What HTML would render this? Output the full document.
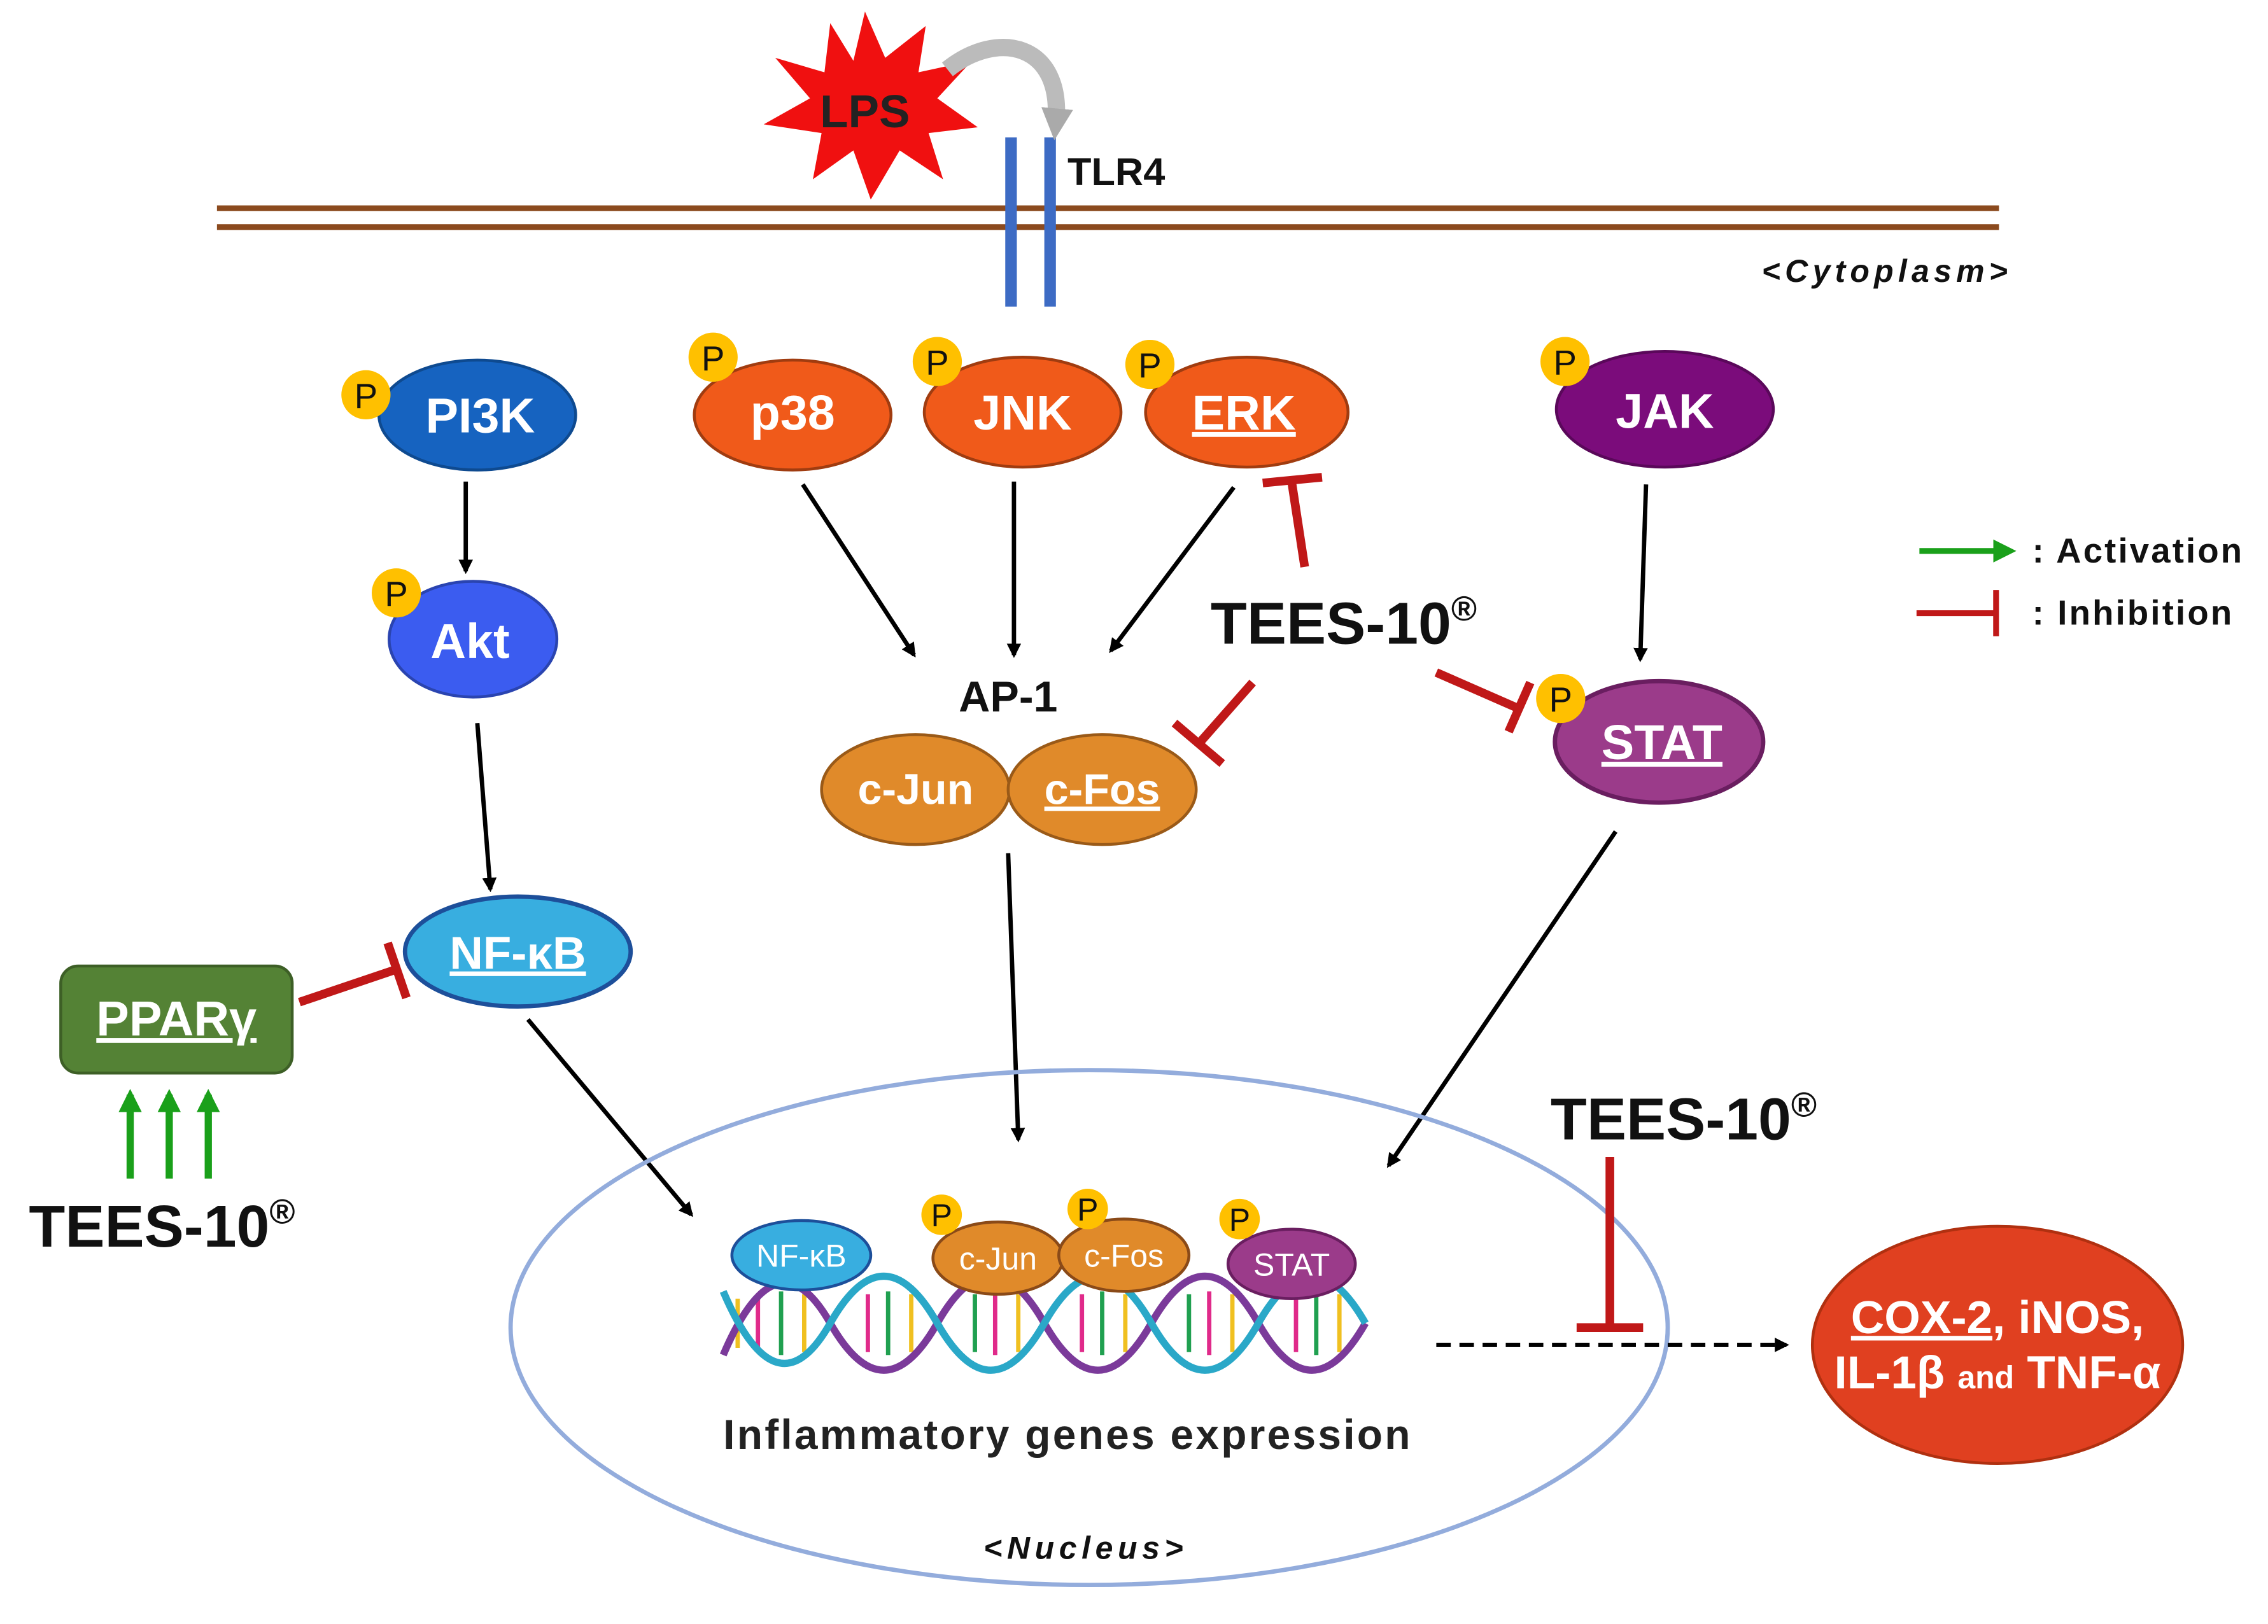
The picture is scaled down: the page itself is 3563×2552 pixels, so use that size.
<!DOCTYPE html>
<html><head><meta charset="utf-8"><style>html,body{margin:0;padding:0;background:#fff}svg{display:block}</style></head><body>
<svg width="3563" height="2552" viewBox="0 0 1568 1123" preserveAspectRatio="none" xmlns="http://www.w3.org/2000/svg" font-family="'Liberation Sans', sans-serif" font-weight="bold">
<defs>
<marker id="ab" markerWidth="10" markerHeight="10" refX="8" refY="5" orient="auto" markerUnits="userSpaceOnUse" viewBox="0 0 10 10"><path d="M0,0 L10,5 L0,10 z" fill="#000"/></marker>
<marker id="ag" markerWidth="16" markerHeight="16" refX="12" refY="8" orient="auto" markerUnits="userSpaceOnUse" viewBox="0 0 16 16"><path d="M0,0 L16,8 L0,16 z" fill="#1aa01a"/></marker>
<marker id="agr" markerWidth="22" markerHeight="22" refX="10" refY="11" orient="auto" markerUnits="userSpaceOnUse" viewBox="0 0 22 22"><path d="M0,0 L22,11 L0,22 z" fill="#aaa"/></marker>
</defs>
<line x1="150" y1="144" x2="1382" y2="144" stroke="#8b4a1e" stroke-width="4"/>
<line x1="150" y1="157" x2="1382" y2="157" stroke="#8b4a1e" stroke-width="4"/>
<rect x="695" y="95" width="8" height="117" fill="#3d6bc4"/>
<rect x="722" y="95" width="8" height="117" fill="#3d6bc4"/>
<text x="738" y="128" font-size="27" fill="#111">TLR4</text>
<text x="1218" y="195" font-size="22" font-style="italic" fill="#111" textLength="170">&lt;Cytoplasm&gt;</text>
<polygon fill="#f01010" points="598,8 612,40 640,18 635,50 672,42 648,68 676,88 642,92 652,124 622,104 602,138 590,104 562,124 568,92 528,86 560,68 536,40 570,50 574,16 590,42"/>
<text x="598" y="88" font-size="32" text-anchor="middle" fill="#222">LPS</text>
<path d="M655,48 C690,20 735,30 730,85" fill="none" stroke="#bbb" stroke-width="12" marker-end="url(#agr)"/>
<ellipse cx="330" cy="287" rx="68" ry="38" fill="#1663c0" stroke="#0e4a90" stroke-width="2"/>
<text x="332" y="299" font-size="34" text-anchor="middle" fill="#fff">PI3K</text>
<ellipse cx="327" cy="442" rx="58" ry="40" fill="#3b5cf0" stroke="#2a44b0" stroke-width="2"/>
<text x="325" y="455" font-size="34" text-anchor="middle" fill="#fff">Akt</text>
<ellipse cx="358" cy="658" rx="78" ry="38" fill="#38aee0" stroke="#1d4f9a" stroke-width="3"/>
<text x="358" y="670" font-size="32" text-anchor="middle" fill="#fff" text-decoration="underline">NF-κB</text>
<rect x="42" y="668" width="160" height="74" rx="12" fill="#548235" stroke="#3d5f26" stroke-width="2"/>
<text x="122" y="716" font-size="34" text-anchor="middle" fill="#fff" text-decoration="underline">PPARγ</text>
<line x1="322" y1="333" x2="322" y2="395" stroke="#000" stroke-width="3" marker-end="url(#ab)"/>
<line x1="330" y1="500" x2="339" y2="615" stroke="#000" stroke-width="3" marker-end="url(#ab)"/>
<line x1="365" y1="705" x2="478" y2="840" stroke="#000" stroke-width="3" marker-end="url(#ab)"/>
<line x1="207" y1="693" x2="275" y2="670" stroke="#c01818" stroke-width="6"/>
<line x1="268" y1="652" x2="281" y2="690" stroke="#c01818" stroke-width="6"/>
<line x1="90" y1="815" x2="90" y2="757" stroke="#1aa01a" stroke-width="5" marker-end="url(#ag)"/>
<line x1="117" y1="815" x2="117" y2="757" stroke="#1aa01a" stroke-width="5" marker-end="url(#ag)"/>
<line x1="144" y1="815" x2="144" y2="757" stroke="#1aa01a" stroke-width="5" marker-end="url(#ag)"/>
<text x="20" y="862" font-size="41" fill="#111">TEES-10<tspan font-size="24" dy="-16">®</tspan></text>
<ellipse cx="548" cy="287" rx="68" ry="38" fill="#f05a1a" stroke="#a03c10" stroke-width="2"/>
<text x="548" y="297" font-size="34" text-anchor="middle" fill="#fff">p38</text>
<ellipse cx="707" cy="285" rx="68" ry="38" fill="#f05a1a" stroke="#a03c10" stroke-width="2"/>
<text x="707" y="297" font-size="34" text-anchor="middle" fill="#fff">JNK</text>
<ellipse cx="862" cy="285" rx="70" ry="38" fill="#f05a1a" stroke="#a03c10" stroke-width="2"/>
<text x="860" y="297" font-size="34" text-anchor="middle" fill="#fff" text-decoration="underline">ERK</text>
<ellipse cx="1151" cy="283" rx="75" ry="40" fill="#7b0c7b" stroke="#5a085a" stroke-width="2"/>
<text x="1151" y="296" font-size="34" text-anchor="middle" fill="#fff">JAK</text>
<line x1="555" y1="335" x2="632" y2="453" stroke="#000" stroke-width="3" marker-end="url(#ab)"/>
<line x1="701" y1="333" x2="701" y2="453" stroke="#000" stroke-width="3" marker-end="url(#ab)"/>
<line x1="853" y1="337" x2="768" y2="450" stroke="#000" stroke-width="3" marker-end="url(#ab)"/>
<text x="697" y="492" font-size="30" text-anchor="middle" fill="#111">AP-1</text>
<ellipse cx="633" cy="546" rx="65" ry="38" fill="#e08a2a" stroke="#9a5a18" stroke-width="2"/>
<ellipse cx="762" cy="546" rx="65" ry="38" fill="#e08a2a" stroke="#9a5a18" stroke-width="2"/>
<text x="633" y="556" font-size="30" text-anchor="middle" fill="#fff">c-Jun</text>
<text x="762" y="556" font-size="30" text-anchor="middle" fill="#fff" text-decoration="underline">c-Fos</text>
<line x1="902" y1="392" x2="893" y2="333" stroke="#c01818" stroke-width="6"/>
<line x1="873" y1="334" x2="914" y2="330" stroke="#c01818" stroke-width="6"/>
<text x="837" y="445" font-size="41" fill="#111">TEES-10<tspan font-size="24" dy="-16">®</tspan></text>
<line x1="866" y1="472" x2="829" y2="514" stroke="#c01818" stroke-width="6"/>
<line x1="812" y1="500" x2="845" y2="528" stroke="#c01818" stroke-width="6"/>
<line x1="993" y1="465" x2="1050" y2="490" stroke="#c01818" stroke-width="6"/>
<line x1="1058" y1="472" x2="1043" y2="506" stroke="#c01818" stroke-width="6"/>
<ellipse cx="1147" cy="513" rx="72" ry="42" fill="#9b3b8a" stroke="#6a1e60" stroke-width="3"/>
<text x="1149" y="525" font-size="34" text-anchor="middle" fill="#fff" text-decoration="underline">STAT</text>
<line x1="1138" y1="335" x2="1134" y2="456" stroke="#000" stroke-width="3" marker-end="url(#ab)"/>
<line x1="1117" y1="575" x2="960" y2="806" stroke="#000" stroke-width="3" marker-end="url(#ab)"/>
<line x1="697" y1="590" x2="704" y2="788" stroke="#000" stroke-width="3" marker-end="url(#ab)"/>
<g font-size="24" font-weight="normal" text-anchor="middle" fill="#111">
<circle cx="253" cy="273" r="17" fill="#ffc000"/><text x="253" y="282">P</text>
<circle cx="274" cy="410" r="17" fill="#ffc000"/><text x="274" y="419">P</text>
<circle cx="493" cy="247" r="17" fill="#ffc000"/><text x="493" y="256">P</text>
<circle cx="648" cy="250" r="17" fill="#ffc000"/><text x="648" y="259">P</text>
<circle cx="795" cy="252" r="17" fill="#ffc000"/><text x="795" y="261">P</text>
<circle cx="1082" cy="250" r="17" fill="#ffc000"/><text x="1082" y="259">P</text>
<circle cx="1079" cy="483" r="17" fill="#ffc000"/><text x="1079" y="492">P</text>
</g>
<ellipse cx="753" cy="918" rx="400" ry="178" fill="none" stroke="#93acdc" stroke-width="3"/>
<g stroke-width="3">
<line x1="510" y1="898" x2="510" y2="932" stroke="#f0c020"/><line x1="524" y1="895" x2="524" y2="935" stroke="#e02a8a"/>
<line x1="540" y1="893" x2="540" y2="937" stroke="#20a050"/><line x1="556" y1="895" x2="556" y2="935" stroke="#f0c020"/>
<line x1="600" y1="895" x2="600" y2="935" stroke="#e02a8a"/><line x1="614" y1="893" x2="614" y2="937" stroke="#20a050"/>
<line x1="630" y1="895" x2="630" y2="935" stroke="#f0c020"/><line x1="674" y1="895" x2="674" y2="935" stroke="#20a050"/>
<line x1="688" y1="893" x2="688" y2="937" stroke="#e02a8a"/><line x1="704" y1="895" x2="704" y2="935" stroke="#f0c020"/>
<line x1="748" y1="895" x2="748" y2="935" stroke="#e02a8a"/><line x1="762" y1="893" x2="762" y2="937" stroke="#20a050"/>
<line x1="778" y1="895" x2="778" y2="935" stroke="#f0c020"/><line x1="822" y1="895" x2="822" y2="935" stroke="#20a050"/>
<line x1="836" y1="893" x2="836" y2="937" stroke="#e02a8a"/><line x1="852" y1="895" x2="852" y2="935" stroke="#f0c020"/>
<line x1="896" y1="895" x2="896" y2="935" stroke="#e02a8a"/><line x1="910" y1="893" x2="910" y2="937" stroke="#20a050"/>
<line x1="926" y1="895" x2="926" y2="935" stroke="#f0c020"/>
</g>
<path d="M500,937 Q537,850 574,915 T648,915 T722,915 T796,915 T870,915 T944,915" fill="none" stroke="#7b3a9a" stroke-width="5"/>
<path d="M500,893 Q537,980 574,915 T648,915 T722,915 T796,915 T870,915 T944,915" fill="none" stroke="#2aa8c8" stroke-width="5"/>
<ellipse cx="554" cy="868" rx="48" ry="24" fill="#38aee0" stroke="#1d4f9a" stroke-width="2"/>
<text x="554" y="876" font-size="22" font-weight="normal" text-anchor="middle" fill="#fff">NF-κB</text>
<ellipse cx="690" cy="870" rx="45" ry="25" fill="#e08a2a" stroke="#8a4a18" stroke-width="2"/>
<ellipse cx="777" cy="868" rx="45" ry="25" fill="#e08a2a" stroke="#8a4a18" stroke-width="2"/>
<text x="690" y="878" font-size="22" font-weight="normal" text-anchor="middle" fill="#fff">c-Jun</text>
<text x="777" y="876" font-size="22" font-weight="normal" text-anchor="middle" fill="#fff">c-Fos</text>
<ellipse cx="893" cy="874" rx="44" ry="24" fill="#9b3b8a" stroke="#6a1e60" stroke-width="2"/>
<text x="893" y="882" font-size="22" font-weight="normal" text-anchor="middle" fill="#fff">STAT</text>
<g font-size="22" font-weight="normal" text-anchor="middle" fill="#111">
<circle cx="651" cy="840" r="14" fill="#ffc000"/><text x="651" y="848">P</text>
<circle cx="752" cy="836" r="14" fill="#ffc000"/><text x="752" y="844">P</text>
<circle cx="857" cy="843" r="14" fill="#ffc000"/><text x="857" y="851">P</text>
</g>
<text x="500" y="1002" font-size="29" fill="#222" textLength="475">Inflammatory genes expression</text>
<text x="680" y="1078" font-size="22" font-style="italic" fill="#111" textLength="138">&lt;Nucleus&gt;</text>
<line x1="993" y1="930" x2="1235" y2="930" stroke="#000" stroke-width="3" stroke-dasharray="10,6" marker-end="url(#ab)"/>
<line x1="1113" y1="800" x2="1113" y2="918" stroke="#c01818" stroke-width="6"/>
<line x1="1090" y1="918" x2="1136" y2="918" stroke="#c01818" stroke-width="6"/>
<text x="1072" y="788" font-size="41" fill="#111">TEES-10<tspan font-size="24" dy="-16">®</tspan></text>
<ellipse cx="1381" cy="930" rx="128" ry="82" fill="#e04020" stroke="#b03010" stroke-width="2"/>
<text x="1381" y="922" font-size="32" text-anchor="middle" fill="#fff"><tspan text-decoration="underline">COX-2</tspan>, iNOS,</text>
<text x="1381" y="960" font-size="32" text-anchor="middle" fill="#fff">IL-1β <tspan font-size="22">and</tspan> TNF-α</text>
<line x1="1327" y1="381" x2="1390" y2="381" stroke="#1aa01a" stroke-width="4" marker-end="url(#ag)"/>
<text x="1405" y="389" font-size="24" fill="#111" textLength="145">: Activation</text>
<line x1="1325" y1="424" x2="1380" y2="424" stroke="#c01818" stroke-width="4"/>
<line x1="1380" y1="408" x2="1380" y2="440" stroke="#c01818" stroke-width="4"/>
<text x="1405" y="432" font-size="24" fill="#111" textLength="138">: Inhibition</text>
</svg>
</body></html>
